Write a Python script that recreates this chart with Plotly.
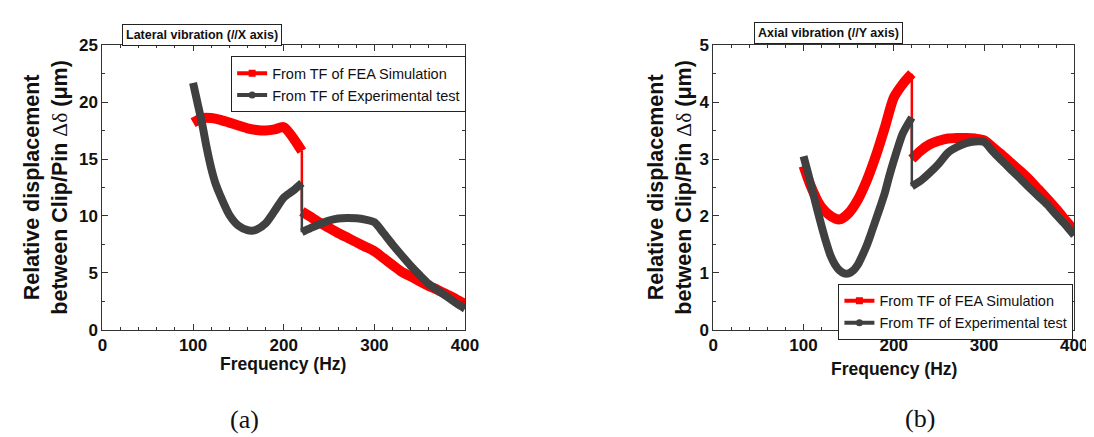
import plotly.graph_objects as go

# ---------------- data ----------------
# (a) Lateral vibration
lat_fea_f = [100, 110, 120, 130, 140, 150, 160, 170, 180, 190, 200, 220, 220, 230, 240, 250, 260, 270, 280, 290, 300,
             310, 320, 330, 340, 350, 360, 370, 380, 390, 400]
lat_fea_v = [18.2, 18.6, 18.6, 18.45, 18.2, 17.95, 17.7, 17.55, 17.5, 17.6, 17.8, 15.7, 10.4, 9.9, 9.4, 8.95, 8.5, 8.1,
             7.7, 7.3, 6.9, 6.3, 5.7, 5.1, 4.7, 4.25, 3.85, 3.5, 3.1, 2.7, 2.25]
lat_exp_f = [100, 105, 110, 115, 120, 125, 130, 140, 150, 160, 165, 170, 180, 190, 200, 210, 220, 220, 230, 240, 250,
             260, 270, 280, 290, 300, 310, 320, 330, 340, 350, 360, 370, 380, 390, 400]
lat_exp_v = [21.7, 19.9, 18.1, 16.0, 14.2, 12.8, 11.8, 10.1, 9.15, 8.75, 8.7, 8.8, 9.35, 10.45, 11.6, 12.2, 12.9, 8.57,
             8.95, 9.3, 9.6, 9.78, 9.83, 9.8, 9.68, 9.45, 8.5, 7.5, 6.55, 5.63, 4.8, 4.03, 3.46, 2.92, 2.35, 1.85]

# (b) Axial vibration
ax_fea_f = [100, 105, 110, 115, 120, 130, 140, 150, 160, 170, 180, 190, 200, 210, 220, 220, 230, 240, 250, 260, 270,
            280, 290, 300, 310, 320, 330, 340, 350, 360, 370, 380, 390, 400]
ax_fea_v = [2.88, 2.65, 2.45, 2.28, 2.15, 2.0, 1.94, 2.05, 2.28, 2.62, 3.05, 3.55, 4.08, 4.32, 4.5, 3.0, 3.15, 3.26,
            3.32, 3.36, 3.37, 3.37, 3.36, 3.33, 3.2, 3.07, 2.93, 2.79, 2.64, 2.47, 2.3, 2.12, 1.93, 1.74]
ax_exp_f = [100, 105, 110, 115, 120, 125, 130, 135, 140, 145, 150, 155, 160, 165, 170, 175, 180, 185, 190, 195, 200,
            210, 220, 220, 230, 240, 250, 260, 270, 280, 290, 300, 310, 320, 330, 340, 350, 360, 370, 380, 390, 400]
ax_exp_v = [3.05, 2.75, 2.44, 2.12, 1.82, 1.54, 1.30, 1.14, 1.04, 0.99, 0.99, 1.04, 1.14, 1.3, 1.48, 1.7, 1.93, 2.16,
            2.4, 2.7, 2.97, 3.45, 3.73, 2.52, 2.62, 2.76, 2.92, 3.11, 3.21, 3.28, 3.31, 3.3, 3.13, 2.97, 2.81, 2.66,
            2.5, 2.35, 2.2, 2.02, 1.85, 1.66]

series_names = ["From TF of FEA Simulation", "From TF of Experimental test"]
x_ticks = [0, 100, 200, 300, 400]
lat_y_ticks = [0, 5, 10, 15, 20, 25]
ax_y_ticks = [0, 1, 2, 3, 4, 5]

RED = "#FF0000"
GRAY = "#404040"
FONT = "Liberation Sans, Arial, sans-serif"
W, H = 1094, 437

fig = go.Figure()


def add_series(xs, ys, color, width, xa, ya):
    # split at the jump (repeated frequency) so each smooth branch is drawn on its own,
    # plus a straight vertical connector at the jump
    k = next(i for i in range(1, len(xs)) if xs[i] == xs[i - 1])
    parts = [(xs[:k], ys[:k], "spline"), (xs[k - 1:k + 1], ys[k - 1:k + 1], "linear"), (xs[k:], ys[k:], "spline")]
    for px, py, shp in parts:
        fig.add_trace(go.Scatter(x=px, y=py, mode="lines", xaxis=xa, yaxis=ya,
                                 line=dict(color=color, width=width if shp == "spline" else 2.5,
                                           shape=shp, smoothing=0.7),
                                 showlegend=False, hoverinfo="x+y"))


add_series(lat_fea_f, lat_fea_v, RED, 10, "x", "y")
add_series(lat_exp_f, lat_exp_v, GRAY, 8, "x", "y")
add_series(ax_fea_f, ax_fea_v, RED, 10, "x2", "y2")
add_series(ax_exp_f, ax_exp_v, GRAY, 8, "x2", "y2")

# legend entries (thin line + marker like the original legend)
for lg, xa, ya in [("legend", "x", "y"), ("legend2", "x2", "y2")]:
    for name, color, sym in zip(series_names, [RED, GRAY], ["square", "circle"]):
        fig.add_trace(go.Scatter(x=[None], y=[None], mode="lines+markers", name=name, legend=lg,
                                 xaxis=xa, yaxis=ya,
                                 line=dict(color=color, width=4),
                                 marker=dict(color=color, symbol=sym, size=7)))

xd1 = [91 / W, 460 / W]
xd2 = [712.7 / W, 1080 / W]
yd = [1 - 327 / H, 1 - 29.5 / H]

axis_common = dict(showgrid=False, zeroline=False, showline=True, linecolor="#333", linewidth=1,
                   mirror="ticks", ticks="inside", ticklen=6, tickcolor="#333", tickwidth=1,
                   tickfont=dict(family=FONT, size=17, color="#111", weight="bold"))

legend_common = dict(xanchor="left", yanchor="top", bgcolor="white",
                     bordercolor="#222", borderwidth=1, font=dict(family=FONT, size=14.5, color="#111"),
                     tracegroupgap=0, itemwidth=30)

fig.update_layout(
    width=W, height=H, margin=dict(l=0, r=0, t=0, b=0),
    paper_bgcolor="white", plot_bgcolor="white",
    font=dict(family=FONT, color="#111"),
    xaxis=dict(domain=xd1, range=[0, 400], tickvals=x_ticks, anchor="y",
               minor=dict(dtick=20, ticks="inside", ticklen=3, tickcolor="#333"), **axis_common),
    yaxis=dict(domain=yd, range=[0, 25], tickvals=lat_y_ticks, anchor="x",
               minor=dict(dtick=2.5, ticks="inside", ticklen=3, tickcolor="#333"), **axis_common),
    xaxis2=dict(domain=xd2, range=[0, 400], tickvals=x_ticks, anchor="y2",
                minor=dict(dtick=20, ticks="inside", ticklen=3, tickcolor="#333"), **axis_common),
    yaxis2=dict(domain=yd, range=[0, 5], tickvals=ax_y_ticks, anchor="x2",
                minor=dict(dtick=0.5, ticks="inside", ticklen=3, tickcolor="#333"), **axis_common),
    legend=dict(x=222 / W, y=1 - 41 / H, **legend_common),
    legend2=dict(x=840 / W, y=1 - 279 / H, **legend_common),
)

ytitle = ("<b>Relative displacement</b><br><b>between Clip/Pin </b>"
          "<span style='font-family:Liberation Serif, Times New Roman, serif'>Δδ</span><b> (μm)</b>")

annotations = [
    # y titles
    dict(x=34 / W, y=1 - 178 / H, text=ytitle, textangle=-90, font=dict(family=FONT, size=21.5, color="#111")),
    dict(x=669 / W, y=1 - 178 / H, text=ytitle, textangle=-90, font=dict(family=FONT, size=21.5, color="#111")),
    # x titles
    dict(x=275 / W, y=1 - 363 / H, text="<b>Frequency (Hz)</b>", font=dict(family=FONT, size=17.5, color="#111")),
    dict(x=897 / W, y=1 - 368 / H, text="<b>Frequency (Hz)</b>", font=dict(family=FONT, size=17.5, color="#111")),
    # panel titles in boxes
    dict(x=192 / W, y=1 - 19 / H, text="<b>Lateral vibration (//X axis)</b>", bgcolor="white",
         bordercolor="#222", borderwidth=1, borderpad=3, font=dict(family=FONT, size=12.5, color="#111")),
    dict(x=830 / W, y=1 - 16.5 / H, text="<b>Axial vibration (//Y axis)</b>", bgcolor="white",
         bordercolor="#222", borderwidth=1, borderpad=3, font=dict(family=FONT, size=12.5, color="#111")),
    # (a) (b)
    dict(x=236 / W, y=1 - 421 / H, text="(a)", font=dict(family="Liberation Serif, Times New Roman, serif",
                                                          size=26, color="#111")),
    dict(x=923 / W, y=1 - 420 / H, text="(b)", font=dict(family="Liberation Serif, Times New Roman, serif",
                                                          size=26, color="#111")),
]
for a in annotations:
    a.update(xref="paper", yref="paper", showarrow=False, xanchor="center", yanchor="middle")
fig.update_layout(annotations=annotations)

fig.write_html("out.html")
